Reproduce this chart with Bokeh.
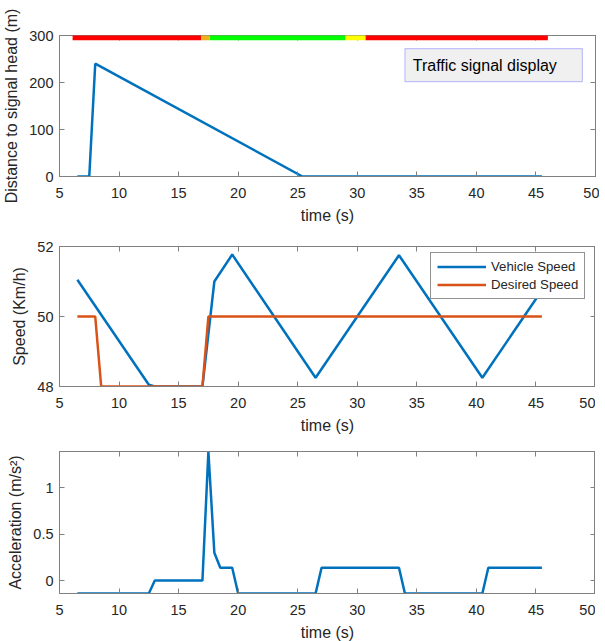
from bokeh.plotting import figure
from bokeh.models import (Range1d, LinearAxis, FixedTicker, BoxAnnotation, Label,
                          Legend, LegendItem)
from bokeh.layouts import column
from bokeh.embed import file_html
from bokeh.resources import INLINE

# ---------------- data ----------------
x_ticks = [5, 10, 15, 20, 25, 30, 35, 40, 45, 50]

# distance to signal head (m)
dist_t = [6.5, 7.5, 8.0, 25.4, 45.5]
dist_m = [0, 0, 240, 0, 0]

# traffic signal display phases
phase_start = [6.1, 16.9, 17.6, 29.0, 30.7]
phase_end = [16.9, 17.6, 29.0, 30.7, 46.0]
phase_color = ["#FF0000", "#EDB120", "#00FF00", "#FFFF00", "#FF0000"]
signal_level = 300

# speed (km/h)
veh_t = [6.5, 12.5, 13.0, 17.0, 18.0, 19.5, 26.5, 33.5, 40.5, 45.5]
veh_v = [51.05, 48.05, 48.0, 48.0, 51.0, 51.77, 48.25, 51.75, 48.25, 50.75]
des_t = [6.5, 8.0, 8.5, 17.0, 17.5, 45.5]
des_v = [50, 50, 48, 48, 50, 50]

# acceleration (m/s^2)
acc_t = [6.5, 12.5, 13.0, 17.0, 17.5, 18.0, 18.5, 19.5, 20.0, 26.5, 27.0, 33.5,
         34.0, 40.5, 41.0, 45.5]
acc_a = [-0.139, -0.139, 0, 0, 1.389, 0.30, 0.139, 0.139, -0.139, -0.139, 0.139,
         0.139, -0.139, -0.139, 0.139, 0.139]

# ---------------- style ----------------
FONT = "Liberation Sans"
AXC = "#808080"
TXT = "#262626"
BLUE = "#0072BD"
ORANGE = "#D95319"
LW = 2.5


def style_axis(ax, ticks, show_labels=True):
    ax.ticker = FixedTicker(ticks=ticks)
    ax.minor_tick_line_color = None
    ax.major_tick_in = 5
    ax.major_tick_out = 0
    ax.major_tick_line_color = AXC
    ax.axis_line_color = AXC
    ax.major_label_text_font = FONT
    ax.major_label_text_color = TXT
    ax.axis_label_text_font = FONT
    ax.axis_label_text_color = TXT
    ax.axis_label_text_font_style = "normal"
    ax.axis_label_text_font_size = "16px"
    if show_labels:
        ax.major_label_text_font_size = "14.5px"
    else:
        ax.major_label_text_font_size = "0px"
        ax.major_label_text_color = None
        ax.major_label_standoff = 0


def make_fig(y0, y1, yticks, ylabel, top_b, frame_h, bottom_b, xs, xa):
    p = figure(frame_width=536, frame_height=frame_h,
               x_range=Range1d(5, 50), y_range=Range1d(y0, y1),
               output_backend="svg", toolbar_location=None,
               min_border_left=55, min_border_right=4,
               min_border_top=top_b, min_border_bottom=bottom_b)
    p.xgrid.visible = False
    p.ygrid.visible = False
    p.outline_line_color = AXC
    p.background_fill_color = "white"
    style_axis(p.xaxis[0], x_ticks)
    p.xaxis[0].axis_label = "time (s)"
    p.xaxis[0].major_label_standoff = xs
    p.xaxis[0].axis_label_standoff = xa
    style_axis(p.yaxis[0], yticks)
    p.yaxis[0].axis_label = ylabel
    p.yaxis[0].major_label_standoff = 6
    p.yaxis[0].axis_label_standoff = 6
    top = LinearAxis()
    style_axis(top, x_ticks, show_labels=False)
    p.add_layout(top, "above")
    right = LinearAxis()
    style_axis(right, yticks, show_labels=False)
    p.add_layout(right, "right")
    return p


# ---------------- panel 1 ----------------
p1 = make_fig(0, 300, [0, 100, 200, 300], "Distance to signal head (m)",
              35, 141, 52, 11, 6)
p1.line(dist_t, dist_m, color=BLUE, line_width=LW)
for s, e, c in zip(phase_start, phase_end, phase_color):
    p1.add_layout(BoxAnnotation(left=s, right=e, top=signal_level + 10,
                                bottom=signal_level - 10, fill_color=c,
                                fill_alpha=1, line_alpha=0, level="overlay"))
p1.add_layout(BoxAnnotation(left=34.0, right=48.9, top=272, bottom=202,
                            fill_color="#F0F0F0", fill_alpha=1,
                            line_color="#3C3CFF", line_width=1.2))
p1.add_layout(Label(x=34.66, y=237, text="Traffic signal display",
                    text_baseline="middle", text_font_size="16px",
                    text_font=FONT, text_color="black"))

# ---------------- panel 2 ----------------
p2 = make_fig(48, 52, [48, 50, 52], "Speed (Km/h)", 18, 140, 52, 11, 6)
r1 = p2.line(veh_t, veh_v, color=BLUE, line_width=LW)
r2 = p2.line(des_t, des_v, color=ORANGE, line_width=LW)
leg = Legend(items=[LegendItem(label="Vehicle Speed", renderers=[r1]),
                    LegendItem(label="Desired Speed", renderers=[r2])],
             location=(371, 140 - 8 - 45), margin=0, padding=6, spacing=3,
             glyph_width=49, glyph_height=15, label_height=15, label_standoff=5,
             label_text_font=FONT, label_text_font_size="13.2px",
             label_text_color=TXT, border_line_color=TXT, border_line_width=1,
             background_fill_color="white", background_fill_alpha=1)
p2.add_layout(leg)

# ---------------- panel 3 ----------------
p3 = make_fig(-0.1389, 1.3889, [0, 0.5, 1], "Acceleration (m/s²)",
              13, 142, 51, 11, 6)
p3.line(acc_t, acc_a, color=BLUE, line_width=LW)

layout = column(p1, p2, p3, spacing=0)
open("out.html", "w").write(file_html(layout, INLINE))
